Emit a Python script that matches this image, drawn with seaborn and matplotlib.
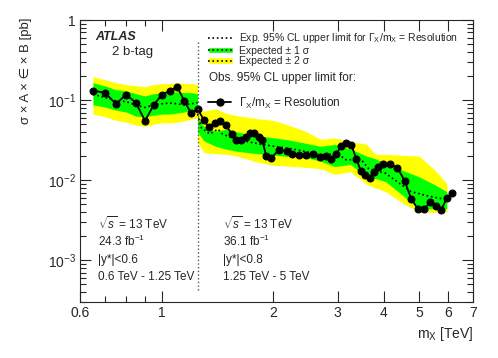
import matplotlib
matplotlib.use("Agg")
import numpy as np
import pandas as pd
import seaborn as sns
import matplotlib.pyplot as plt
from matplotlib.lines import Line2D
from matplotlib.patches import Patch
from matplotlib.ticker import FixedLocator, FixedFormatter, NullFormatter

# observed limit, one line over both mass ranges
mass_low = [0.65, 0.70, 0.75, 0.80, 0.85, 0.90, 0.95, 1.00, 1.05, 1.10, 1.15, 1.20, 1.25]
obs_low = [0.131, 0.124, 0.090, 0.117, 0.093, 0.055, 0.087, 0.117, 0.131, 0.147, 0.098, 0.069, 0.078]
mass_high = [1.30, 1.34, 1.39, 1.44, 1.49, 1.55, 1.59, 1.64, 1.69, 1.74, 1.78, 1.83, 1.87, 1.92,
             1.98, 2.08, 2.18, 2.26, 2.36, 2.46, 2.57, 2.69, 2.79, 2.88, 2.97, 3.07, 3.17, 3.27,
             3.37, 3.47, 3.57, 3.67, 3.76, 3.86, 3.98, 4.16, 4.36, 4.56, 4.75, 4.95, 5.16, 5.35,
             5.55, 5.74, 5.94, 6.14]
obs_high = [0.0564, 0.0461, 0.0517, 0.0548, 0.0488, 0.0376, 0.0316, 0.0322, 0.0348, 0.0384,
            0.0384, 0.0348, 0.0322, 0.0202, 0.0189, 0.0241, 0.0229, 0.0215, 0.0208, 0.0208,
            0.0210, 0.0193, 0.0201, 0.0182, 0.0210, 0.0269, 0.0289, 0.0277, 0.0186, 0.0131,
            0.0117, 0.0106, 0.0127, 0.0148, 0.0160, 0.0160, 0.0143, 0.0099, 0.0059, 0.0044,
            0.0044, 0.0053, 0.0047, 0.0043, 0.0060, 0.0069]

# expected limit and bands, low mass range (same masses as observed)
exp_low = [0.118, 0.108, 0.098, 0.096, 0.086, 0.081, 0.087, 0.090, 0.092, 0.090, 0.087, 0.090, 0.093]
one_up_low = [0.165, 0.151, 0.135, 0.131, 0.120, 0.113, 0.120, 0.124, 0.127, 0.127, 0.124, 0.124, 0.120]
one_dn_low = [0.087, 0.082, 0.075, 0.071, 0.063, 0.062, 0.065, 0.067, 0.067, 0.069, 0.071, 0.075, 0.078]
two_up_low = [0.197, 0.180, 0.165, 0.156, 0.151, 0.147, 0.156, 0.161, 0.161, 0.165, 0.161, 0.161, 0.156]
two_dn_low = [0.067, 0.062, 0.056, 0.053, 0.049, 0.047, 0.050, 0.052, 0.052, 0.053, 0.055, 0.058, 0.060]

# expected limit, high mass range
exp_mass_high = [1.25, 1.28, 1.35, 1.42, 1.46, 1.58, 1.86, 2.29, 2.68, 3.02, 3.16, 3.48, 3.64,
                 4.05, 4.75, 5.24, 5.94]
exp_high = [0.067, 0.045, 0.0377, 0.0435, 0.0377, 0.0327, 0.028, 0.0243, 0.021, 0.021, 0.018,
            0.018, 0.014, 0.0122, 0.0072, 0.0064, 0.0057]

# bands, high mass range
band_mass_high = [1.25, 1.30, 1.40, 1.50, 1.60, 1.80, 2.0, 2.2, 2.45, 2.7, 2.95, 3.25, 3.6, 3.8,
                  4.05, 4.5, 5.0, 5.5, 5.94]
one_up_high = [0.060, 0.047, 0.041, 0.0435, 0.040, 0.036, 0.034, 0.032, 0.029, 0.0265, 0.028,
               0.0245, 0.020, 0.0185, 0.0162, 0.0133, 0.011, 0.0088, 0.0072]
one_dn_high = [0.040, 0.031, 0.0265, 0.0243, 0.023, 0.0215, 0.0205, 0.0198, 0.0193, 0.0172,
               0.0148, 0.0157, 0.0112, 0.0105, 0.0096, 0.0065, 0.0044, 0.0044, 0.0044]
two_up_high = [0.075, 0.073, 0.078, 0.068, 0.064, 0.059, 0.056, 0.049, 0.041, 0.0325, 0.0336,
               0.0305, 0.028, 0.021, 0.021, 0.0205, 0.020, 0.0135, 0.0091]
two_dn_high = [0.030, 0.022, 0.0215, 0.021, 0.020, 0.017, 0.0154, 0.015, 0.0145, 0.0139, 0.0118,
               0.0128, 0.0089, 0.008, 0.0072, 0.0052, 0.0040, 0.0040, 0.0040]

boundary = 1.25
boundary_span = (4.2e-4, 0.53)

x_ticks = [0.6, 1, 2, 3, 4, 5, 6, 7]
x_labels = ["0.6", "1", "2", "3", "4", "5", "6", "7"]
y_ticks = [1e-3, 1e-2, 1e-1, 1]
y_labels = ["$10^{-3}$", "$10^{-2}$", "$10^{-1}$", "1"]

GREEN = "#00ff00"
YELLOW = "#ffff00"

sns.set_style("ticks")
plt.rcParams["font.family"] = ["Liberation Sans", "DejaVu Sans"]
plt.rcParams["mathtext.fontset"] = "custom"
plt.rcParams["mathtext.rm"] = "Liberation Sans"
plt.rcParams["mathtext.it"] = "Liberation Sans:italic"
plt.rcParams["mathtext.bf"] = "Liberation Sans:bold"

fig, ax = plt.subplots(figsize=(4.98, 3.58), dpi=100)
fig.subplots_adjust(left=0.161, right=0.95, top=0.944, bottom=0.156)

# bands
ax.fill_between(mass_low, two_dn_low, two_up_low, color=YELLOW, lw=0)
ax.fill_between(mass_low, one_dn_low, one_up_low, color=GREEN, lw=0)
ax.fill_between(band_mass_high, two_dn_high, two_up_high, color=YELLOW, lw=0)
ax.fill_between(band_mass_high, one_dn_high, one_up_high, color=GREEN, lw=0)

# expected
sns.lineplot(x=mass_low, y=exp_low, ax=ax, color="black", linestyle=":", lw=1.2)
sns.lineplot(x=exp_mass_high, y=exp_high, ax=ax, color="black", linestyle=":", lw=1.2)

# observed
obs = pd.DataFrame({"mass": mass_low + mass_high, "limit": obs_low + obs_high})
sns.lineplot(data=obs, x="mass", y="limit", ax=ax, color="black", lw=1.3,
             marker="o", markersize=5, markeredgecolor="black")

ax.vlines(boundary, *boundary_span, colors="#555555", linestyles=":", lw=1)

ax.set_xscale("log")
ax.set_yscale("log")
ax.set_xlim(0.6, 7)
ax.set_ylim(3e-4, 1)

ax.xaxis.set_major_locator(FixedLocator(x_ticks))
ax.xaxis.set_major_formatter(FixedFormatter(x_labels))
ax.xaxis.set_minor_locator(FixedLocator([0.7, 0.8, 0.9]))
ax.xaxis.set_minor_formatter(NullFormatter())
ax.yaxis.set_major_locator(FixedLocator(y_ticks))
ax.yaxis.set_major_formatter(FixedFormatter(y_labels))
y_minor = [m * 10.0 ** e for e in range(-4, 0) for m in range(2, 10)]
ax.yaxis.set_minor_locator(FixedLocator([v for v in y_minor if v > 3e-4]))
ax.yaxis.set_minor_formatter(NullFormatter())

ax.tick_params(which="both", direction="in", top=True, right=True, labelsize=10, width=0.8)
ax.tick_params(which="major", length=8, pad=3)
ax.tick_params(which="minor", length=4)
for s in ax.spines.values():
    s.set_linewidth(0.8)

ax.set_ylabel("σ × A × ∈ × B [pb]", fontsize=9.5, loc="top")
ax.yaxis.set_label_coords(-0.122, 1.01)
ax.set_xlabel(r"m$_{\rm X}$ [TeV]", fontsize=10, loc="right")
ax.xaxis.set_label_coords(1.0, -0.08)

# legend
dot = Line2D([], [], color="black", linestyle=":", lw=1.2)
leg1 = ax.legend(
    [dot, (Patch(fc=GREEN), dot), (Patch(fc=YELLOW), dot)],
    [r"Exp. 95% CL upper limit for Γ$_{\rm X}$/m$_{\rm X}$ = Resolution",
     "Expected ± 1 σ", "Expected ± 2 σ"],
    loc="upper left", bbox_to_anchor=(0.325, 0.96), fontsize=7.5, frameon=False,
    handlelength=2.4, handleheight=0.6, labelspacing=0.05, handletextpad=0.6,
    borderpad=0, borderaxespad=0,
)
ax.add_artist(leg1)
ax.text(0.328, 0.794, "Obs. 95% CL upper limit for:", transform=ax.transAxes,
        fontsize=8.5, va="center")
ax.legend(
    [Line2D([], [], color="black", lw=1.3, marker="o", markersize=5)],
    [r"Γ$_{\rm X}$/m$_{\rm X}$ = Resolution"],
    loc="center left", bbox_to_anchor=(0.325, 0.706), fontsize=8.5, frameon=False,
    handlelength=2.0, handletextpad=0.6, borderpad=0, borderaxespad=0,
)

ax.text(0.038, 0.94, "ATLAS", transform=ax.transAxes, fontsize=9,
        fontweight="bold", fontstyle="italic", va="center")
ax.text(0.081, 0.887, "2 b-tag", transform=ax.transAxes, fontsize=9.5, va="center")

left_lines = [r"$\sqrt{s}$ = 13 TeV", r"24.3 fb$^{-1}$", "|y*|<0.6", "0.6 TeV - 1.25 TeV"]
right_lines = [r"$\sqrt{s}$ = 13 TeV", r"36.1 fb$^{-1}$", "|y*|<0.8", "1.25 TeV - 5 TeV"]
line_y = [0.277, 0.216, 0.149, 0.089]
for txt_l, txt_r, yy in zip(left_lines, right_lines, line_y):
    ax.text(0.046, yy, txt_l, transform=ax.transAxes, fontsize=8.5, va="center")
    ax.text(0.364, yy, txt_r, transform=ax.transAxes, fontsize=8.5, va="center")

fig.savefig("out.png", dpi=100)
